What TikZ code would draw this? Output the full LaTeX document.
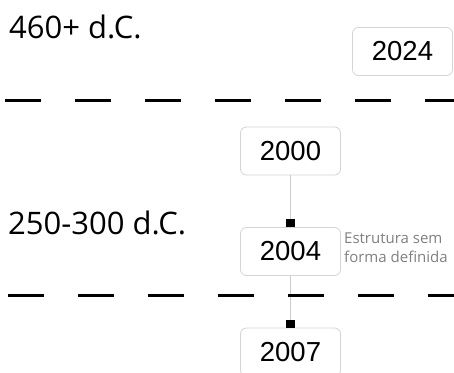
\documentclass[tikz,border=0pt]{standalone}
\usepackage{fontspec}
\setmainfont{Liberation Sans}
\newfontfamily\labelfont{Open Sans}
\usetikzlibrary{arrows.meta}
\definecolor{boxline}{HTML}{D4D4D4}
\definecolor{connline}{HTML}{CCCCCC}
\definecolor{notegray}{HTML}{808080}
\tikzset{
  yearbox/.style={draw=boxline, line width=0.8pt, rounded corners=6pt, fill=white,
    minimum width=100pt, minimum height=48pt, inner sep=0pt,
    font=\fontsize{27.5}{30}\selectfont},
  conn/.style={draw=connline, line width=0.9pt,
    -{Square[length=8pt,width=9pt,color=black,fill=black]}},
  erabar/.style={line width=3pt, dash pattern=on 36pt off 34pt},
  eralabel/.style={anchor=base west, inner sep=0pt,
    font=\labelfont\fontsize{31}{34}\selectfont},
  notelabel/.style={anchor=north west, inner sep=0pt, align=left, text=notegray,
    font=\labelfont\fontsize{15}{18.5}\selectfont}
}
\begin{document}
\begin{tikzpicture}[x=1pt,y=-1pt]
\useasboundingbox (0,0) rectangle (454,372);
\clip (0,0) rectangle (454,372);
% era labels
\node[eralabel] (e460) at (9,38) {460+ d.C.};
\node[eralabel] (e250) at (8,234) {250-300 d.C.};
% year boxes
\node[yearbox] (y2024) at (402.5,51.5) {2024};
\node[yearbox] (y2000) at (290.5,151) {2000};
\node[yearbox] (y2004) at (290.5,251.5) {2004};
\node[yearbox] (y2007) at (290.5,352) {2007};
% note
\node[notelabel] (note) at (344,233) {Estrutura sem\\forma definida};
% connectors
\draw[conn] (y2000) -- (y2004);
\draw[conn] (y2004) -- (y2007);
% era separators
\coordinate (b1s) at (5,100);
\coordinate (b1e) at (454,100);
\coordinate (b2s) at (8,295);
\coordinate (b2e) at (454,295);
\draw[erabar] (b1s) -- (b1e);
\draw[erabar] (b2s) -- (b2e);
\end{tikzpicture}
\end{document}
